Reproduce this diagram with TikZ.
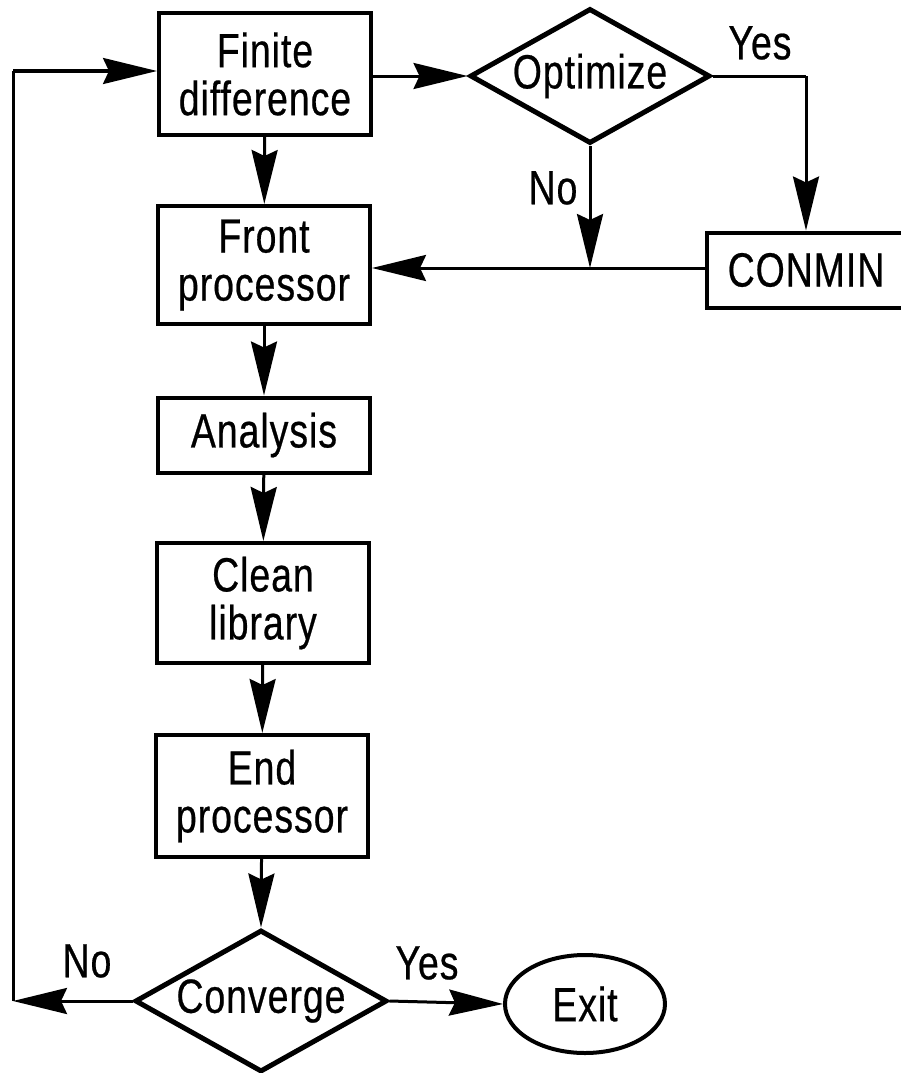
\documentclass[tikz,border=0pt]{standalone}
\usepackage{fontspec}
\setmainfont{Liberation Sans}[FakeStretch=0.78,LetterSpace=2,FakeBold=0.5]
\usetikzlibrary{shapes.geometric,arrows.meta}
\begin{document}
\begin{tikzpicture}[x=1pt,y=-1pt,
  every node/.style={font=\fontsize{48}{48}\selectfont},
  procbox/.style={draw,line width=4pt,rectangle,inner sep=0pt,align=center},
  decide/.style={draw,line width=5pt,diamond,inner sep=0pt},
  term/.style={draw,line width=4pt,ellipse,inner sep=0pt},
  lbl/.style={inner sep=0pt},
  conn/.style={line width=3pt},
  arr/.style={conn,-{Stealth[length=54pt,width=26pt,inset=6pt]}}]
\useasboundingbox (0,0) rectangle (901,1073);
\node[procbox,minimum width=212pt,minimum height=122pt] (fd) at (265,74) {Finite\\difference};
\node[procbox,minimum width=212pt,minimum height=118pt] (front) at (264,265) {Front\\processor};
\node[procbox,minimum width=212pt,minimum height=75pt] (ana) at (264,435) {Analysis};
\node[procbox,minimum width=212pt,minimum height=120pt] (clean) at (263,603) {Clean\\library};
\node[procbox,minimum width=212pt,minimum height=122pt] (endp) at (262,796) {End\\processor};
\node[decide,minimum width=252pt,minimum height=142pt] (conv) at (261,1001) {\makebox[0pt]{Converge}};
\node[term,minimum width=160pt,minimum height=98pt] (exit) at (585,1004) {Exit};
\node[decide,minimum width=240pt,minimum height=135pt] (opt) at (590,76) {\makebox[0pt]{Optimize}};
\node[procbox,minimum width=198pt,minimum height=75pt] (conmin) at (806,270) {CONMIN};
% labels
\node[lbl] (yes1) at (760,43) {Yes};
\node[lbl] (no1) at (553,188) {No};
\node[lbl] (no2) at (87,961) {No};
\node[lbl] (yes2) at (427,963) {Yes};
% coordinates
\coordinate (join) at (590,268);
\coordinate (lb) at (13,1001);
\coordinate (lt) at (13,71);
\coordinate (yc) at (806,76);
% connectors
\draw[arr] (fd) -- (front);
\draw[arr] (front) -- (ana);
\draw[arr] (ana) -- (clean);
\draw[arr] (clean) -- (endp);
\draw[arr] (endp) -- (conv.north);
\draw[arr] (conv.east) -- (exit.west);
\draw[arr] (conv.west) -- (lb);
\draw[conn] (lb) -- (lt);
\draw[arr] (lt) -- (fd.west |- lt);
\draw[arr] (fd.east |- opt.west) -- (opt.west);
\draw[conn] (opt.east) -- (yc);
\draw[arr] (yc) -- (conmin.north);
\draw[arr] (opt.south) -- (join);
\draw[arr] (conmin.west |- join) -- (front.east |- join);
\end{tikzpicture}
\end{document}
